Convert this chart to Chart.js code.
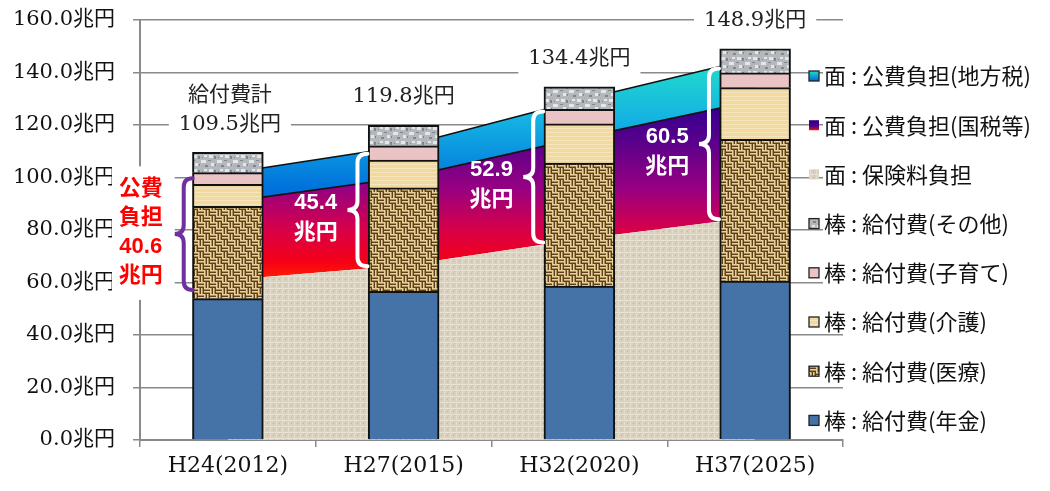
<!DOCTYPE html>
<html>
<head>
<meta charset="utf-8">
<script src="https://cdn.jsdelivr.net/npm/chart.js@4.4.1/dist/chart.umd.min.js"></script>
<style>
  html, body { margin: 0; padding: 0; background: #fff; }
</style>
</head>
<body>
<canvas id="chart" width="1050" height="491"></canvas>
<script>
// values (兆円)
const categories = ['H24(2012)', 'H27(2015)', 'H32(2020)', 'H37(2025)'];
const pension = [53.8, 56.5, 58.5, 60.4];
const medical = [35.1, 39.5, 46.9, 54.0];
const care = [8.4, 10.5, 14.9, 19.8];
const childcare = [4.5, 5.5, 5.6, 5.6];
const other = [7.7, 7.8, 8.5, 9.1];
const benefitTotal = [109.5, 119.8, 134.4, 148.9];
const insurance = [61.0, 66.5, 76.5, 85.0];
const taxNational = [29.7, 33.4, 38.5, 44.3];
const taxLocal = [10.9, 12.0, 14.4, 16.2];
const publicTotal = [40.6, 45.4, 52.9, 60.5];
const yTicks = { min: 0, max: 160, step: 20 };

const canvas = document.getElementById('chart');
const mainCtx = canvas.getContext('2d');

// small tiles to imitate the textured fills
function tile(w, h, base, marks) {
  const c = document.createElement('canvas');
  c.width = w; c.height = h;
  const g = c.getContext('2d');
  g.fillStyle = base;
  g.fillRect(0, 0, w, h);
  marks.forEach(([col, x, y, mw, mh]) => { g.fillStyle = col; g.fillRect(x, y, mw, mh); });
  return mainCtx.createPattern(c, 'repeat');
}
const L = '#e8d29a', D = '#5a4220';
const medicalFill = tile(12, 12, '#b09058', [
  [L, 0, 0, 6, 1], [L, 0, 3, 6, 1], [D, 0, 2, 6, 1], [D, 0, 5, 6, 1],
  [L, 6, 0, 1, 6], [L, 9, 0, 1, 6], [D, 8, 0, 1, 6], [D, 11, 0, 1, 6],
  [L, 0, 6, 1, 6], [L, 3, 6, 1, 6], [D, 2, 6, 1, 6], [D, 5, 6, 1, 6],
  [L, 6, 6, 6, 1], [L, 6, 9, 6, 1], [D, 6, 8, 6, 1], [D, 6, 11, 6, 1]
]);
const insuranceFill = tile(6, 6, '#d9d1bd', [
  ['#e9e3d5', 0, 0, 6, 1], ['#e4ddcd', 0, 0, 1, 6], ['#bfb59f', 3, 3, 1, 1], ['#c8bea9', 4, 1, 1, 1]
]);
const G1 = '#e4e6e8', G2 = '#80868c';
const otherFill = tile(16, 14, '#b4b8bc', [
  [G1, 1, 1, 4, 3], [G1, 9, 6, 5, 3], [G1, 3, 9, 3, 3], [G1, 12, 1, 3, 2],
  [G2, 6, 2, 2, 3], [G2, 0, 6, 3, 1], [G2, 13, 11, 3, 2], [G2, 7, 10, 1, 2], [G2, 10, 3, 1, 1]
]);
const careFill = tile(4, 4, '#f1d9a2', [['#f6e4bb', 0, 0, 4, 1]]);
const childFill = '#eac3c4';
const pensionFill = '#4572a7';

function vGrad(chart, stops) {
  const { ctx, chartArea, scales } = chart;
  if (!chartArea) return null;
  const y0 = scales.y.getPixelForValue(stops[0][0]);
  const y1 = scales.y.getPixelForValue(stops[stops.length - 1][0]);
  const g = ctx.createLinearGradient(0, y0, 0, y1);
  stops.forEach(([v, c]) => g.addColorStop((scales.y.getPixelForValue(v) - y0) / (y1 - y0), c));
  return g;
}
const localStops = [[144, '#22dccb'], [122, '#14b2e2'], [96, '#0072dc'], [85, '#0060d6']];
const nationalStops = [[130, '#2a0090'], [114, '#58008c'], [95, '#9a0080'], [80, '#d80048'], [68, '#f50018'], [61, '#ff2000'], [57, '#ff5a00']];

const areaBase = { type: 'line', stack: 'funding', order: 1, pointRadius: 0, pointHoverRadius: 0, tension: 0 };
const barBase = { type: 'bar', stack: 'benefit', order: 0, borderColor: '#111', borderWidth: 2,
  inflateAmount: 0.6, barPercentage: 0.4, categoryPercentage: 1 };

const datasets = [
  Object.assign({}, areaBase, { label: '面:保険料負担', data: insurance, fill: 'origin',
    backgroundColor: insuranceFill, borderWidth: 0, borderColor: 'rgba(0,0,0,0)' }),
  Object.assign({}, areaBase, { label: '面:公費負担(国税等)', data: taxNational, fill: '-1',
    backgroundColor: (c) => vGrad(c.chart, nationalStops), borderColor: '#111', borderWidth: 1.6 }),
  Object.assign({}, areaBase, { label: '面:公費負担(地方税)', data: taxLocal, fill: '-1',
    backgroundColor: (c) => vGrad(c.chart, localStops), borderColor: '#111', borderWidth: 1.6 }),
  Object.assign({}, barBase, { label: '棒:給付費(年金)', data: pension, backgroundColor: pensionFill }),
  Object.assign({}, barBase, { label: '棒:給付費(医療)', data: medical, backgroundColor: medicalFill }),
  Object.assign({}, barBase, { label: '棒:給付費(介護)', data: care, backgroundColor: careFill }),
  Object.assign({}, barBase, { label: '棒:給付費(子育て)', data: childcare, backgroundColor: childFill }),
  Object.assign({}, barBase, { label: '棒:給付費(その他)', data: other, backgroundColor: otherFill })
];
const legendOrder = [2, 1, 0, 7, 6, 5, 4, 3];
const bordered = [true, false, false, true, true, true, true, true];

const serifFamily = '"DejaVu Serif", "Noto Sans CJK JP", serif';
const serif = '21px ' + serifFamily;
const gothic = '22px "Noto Sans CJK JP", sans-serif';
const boldGothic = 'bold 22px "Liberation Sans", "Noto Sans CJK JP", sans-serif';

function labelBox(ctx, lines, cx, cy, lineH) {
  ctx.font = serif;
  const w = Math.max(...lines.map(t => ctx.measureText(t).width)) + 20;
  const h = lines.length * lineH + 12;
  ctx.fillStyle = '#fff';
  ctx.fillRect(cx - w / 2, cy - h / 2, w, h);
  ctx.fillStyle = '#222';
  ctx.textAlign = 'center';
  ctx.textBaseline = 'middle';
  lines.forEach((t, i) => ctx.fillText(t, cx, cy - (lines.length - 1) * lineH / 2 + i * lineH));
}

function brace(ctx, xEnd, xTip, yTop, yBot, color) {
  const xs = (xEnd + xTip) / 2, ym = (yTop + yBot) / 2, r = 9;
  ctx.beginPath();
  ctx.moveTo(xEnd, yTop);
  ctx.quadraticCurveTo(xs, yTop, xs, yTop + r);
  ctx.lineTo(xs, ym - r);
  ctx.quadraticCurveTo(xs, ym, xTip, ym);
  ctx.quadraticCurveTo(xs, ym, xs, ym + r);
  ctx.lineTo(xs, yBot - r);
  ctx.quadraticCurveTo(xs, yBot, xEnd, yBot);
  ctx.strokeStyle = color;
  ctx.lineWidth = 4;
  ctx.lineCap = 'round';
  ctx.stroke();
}

function lineAt(points, x) {
  for (let i = 1; i < points.length; i++) {
    const a = points[i - 1], b = points[i];
    if (x <= b.x) return a.y + (b.y - a.y) * (x - a.x) / (b.x - a.x);
  }
  return points[points.length - 1].y;
}

const overlay = {
  id: 'overlay',
  afterDraw(chart) {
    const { ctx, scales: { y } } = chart;
    const bars = chart.getDatasetMeta(7).data;
    const topLine = chart.getDatasetMeta(2).data;
    const baseLine = chart.getDatasetMeta(0).data;
    ctx.save();

    // totals above the bars
    bars.forEach((b, i) => {
      const yy = y.getPixelForValue(benefitTotal[i]) - 29;
      const txt = benefitTotal[i].toFixed(1) + '兆円';
      if (i === 0) labelBox(ctx, ['給付費計', txt], b.x + 2, yy - 14, 29);
      else labelBox(ctx, [txt], b.x, yy, 29);
    });

    // public burden for the first year, left of the bar
    const b0 = bars[0];
    const left0 = b0.x - b0.width / 2;
    const t0 = y.getPixelForValue(insurance[0] + publicTotal[0]) + 5;
    const s0 = y.getPixelForValue(insurance[0]) + 10;
    ctx.fillStyle = '#fff';
    ctx.fillRect(112, t0 - 12, left0 - 18 - 112, s0 - t0 + 22);
    brace(ctx, left0, left0 - 18, t0, s0, '#7030a0');
    const m0 = (t0 + s0) / 2;
    ctx.font = boldGothic;
    ctx.fillStyle = '#ff0000';
    ctx.textAlign = 'center';
    ctx.textBaseline = 'middle';
    const cx0 = left0 - 52;
    ['公費', '負担', publicTotal[0].toFixed(1), '兆円'].forEach((t, k) => ctx.fillText(t, cx0, m0 - 45 + k * 29));

    // public burden for later years, in the gaps
    for (let i = 1; i < bars.length; i++) {
      const b = bars[i], p = bars[i - 1];
      const left = b.x - b.width / 2;
      const prevRight = p.x + p.width / 2;
      const yt = lineAt(topLine, left) + 2;
      const yb = lineAt(baseLine, left) - 2;
      brace(ctx, left - 1, left - 21, yt, yb, '#ffffff');
      const ym = (yt + yb) / 2;
      const cx = (prevRight + left) / 2;
      ctx.font = boldGothic;
      ctx.fillStyle = '#ffffff';
      ctx.fillText(publicTotal[i].toFixed(1), cx, ym - 7);
      ctx.fillText('兆円', cx, ym + 23);
    }

    // legend on the right
    const lx = 809, ly = 76, step = 49.2, box = 10;
    legendOrder.forEach((di, k) => {
      const ds = chart.data.datasets[di];
      const yy = ly + k * step;
      let fill = ds.backgroundColor;
      if (typeof fill === 'function') {
        const g = ctx.createLinearGradient(0, yy - box / 2, 0, yy + box / 2);
        const st = di === 2 ? [[0, '#22dccb'], [1, '#0068d8']] : [[0, '#2a0090'], [0.6, '#50008c'], [1, '#ff1000']];
        st.forEach(([o, c]) => g.addColorStop(o, c));
        fill = g;
      }
      ctx.fillStyle = fill;
      ctx.fillRect(lx, yy - box / 2, box, box);
      if (bordered[k]) {
        ctx.strokeStyle = '#222';
        ctx.lineWidth = 1.3;
        ctx.strokeRect(lx, yy - box / 2, box, box);
      }
      const label = ds.label.replace(':', ' : ');
      ctx.font = gothic;
      const w = ctx.measureText(label).width;
      ctx.fillStyle = '#fff';
      ctx.fillRect(823, yy - 12, w + 6, 24);
      ctx.fillStyle = '#111';
      ctx.textAlign = 'left';
      ctx.textBaseline = 'middle';
      ctx.fillText(label, 824, yy);
    });
    ctx.restore();
  }
};

new Chart(mainCtx, {
  data: { labels: categories, datasets: datasets },
  options: {
    responsive: false,
    animation: false,
    events: [],
    layout: { padding: { left: 0, right: 207, top: 20, bottom: 0 } },
    plugins: { legend: { display: false }, tooltip: { enabled: false } },
    scales: {
      x: {
        stacked: true,
        offset: true,
        grid: { display: true, drawOnChartArea: false, offset: true, color: '#8a8a8a', lineWidth: 1.5, tickLength: 7 },
        border: { display: true, color: '#8a8a8a', width: 2 },
        ticks: { color: '#111', font: { family: serifFamily, size: 22 }, padding: 6 },
        afterFit(s) { s.height = 51; s.paddingLeft = 0; s.paddingRight = 0; }
      },
      y: {
        stacked: true,
        min: yTicks.min,
        max: yTicks.max,
        grid: { color: '#8a8a8a', lineWidth: 1.5, tickLength: 7 },
        border: { display: true, color: '#8a8a8a', width: 2 },
        ticks: {
          stepSize: yTicks.step,
          color: '#111',
          padding: 18,
          font: { family: serifFamily, size: 21 },
          callback: (v) => v.toFixed(1) + '兆円'
        },
        afterFit(s) { s.width = 140; s.paddingTop = 0; s.paddingBottom = 0; }
      }
    }
  },
  plugins: [overlay]
});
</script>
</body>
</html>
